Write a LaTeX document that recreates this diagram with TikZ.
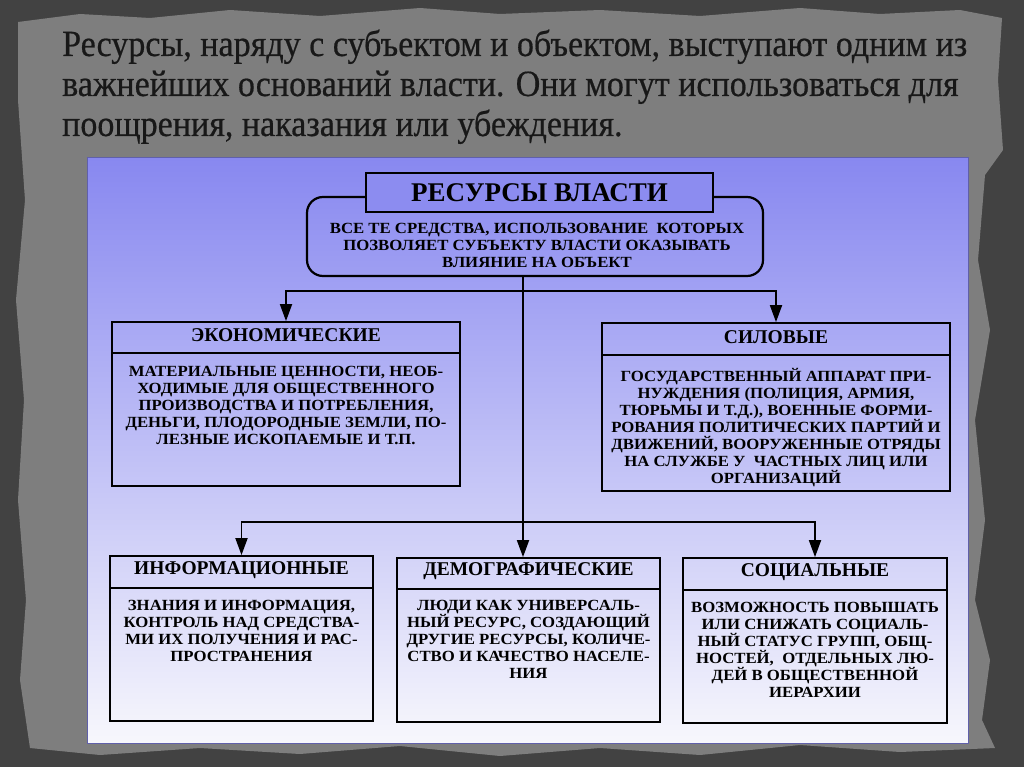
\documentclass[tikz,border=0pt]{standalone}
\usepackage{fontspec}
\setmainfont{Liberation Serif}
\newfontfamily\headingfont[FakeStretch=0.92, FakeBold=0.5]{Liberation Serif}
\newfontfamily\boxfont[FakeStretch=1.08]{Liberation Serif}
\usetikzlibrary{arrows.meta,positioning,calc}

\definecolor{slate}{RGB}{66,66,66}
\definecolor{paper}{RGB}{126,126,126}
\definecolor{paneltop}{RGB}{136,136,240}
\definecolor{panelmid}{RGB}{186,186,244}
\definecolor{panelbot}{RGB}{247,247,252}
\definecolor{panelrim}{RGB}{96,96,170}
\definecolor{ink}{RGB}{24,24,24}
\definecolor{namefill}{RGB}{140,140,240}

\begin{document}
\begin{tikzpicture}[
    x=1pt, y=-1pt,
    heading/.style={anchor=base west, inner sep=0, text=ink, font=\headingfont\fontsize{37}{40}\selectfont},
    frame/.style={draw=black, line width=1.8pt, inner sep=0},
    namebox/.style={frame, fill=namefill, minimum width=347pt, minimum height=39pt, font=\fontsize{27}{30}\selectfont\bfseries},
    defbox/.style={frame, line width=2.2pt, rounded corners=16pt, minimum width=456pt, minimum height=79pt},
    head/.style={inner sep=0, font=\fontsize{19.5}{22}\selectfont\bfseries},
    body/.style={inner sep=0, align=center, font=\boxfont\fontsize{15.5}{17}\selectfont\bfseries},
    line/.style={draw, line width=1.8pt, -{Triangle[length=17pt,width=12pt]}}
]
    % background and panel
    \useasboundingbox (0,0) rectangle (1024,767);
    \fill[slate] (0,0) rectangle (1024,767);
    \fill[paper] (18,22) -- (80,14) -- (150,18) -- (230,10) -- (320,16) -- (420,8) -- (500,14)
        -- (600,10) -- (700,16) -- (800,8) -- (880,14) -- (960,10) -- (1002,18)
        -- (998,80) -- (1003,150) -- (985,175) -- (978,260) -- (990,330) -- (975,420)
        -- (985,520) -- (975,600) -- (990,660) -- (982,720) -- (995,748)
        -- (900,752) -- (800,745) -- (700,755) -- (600,748) -- (500,756) -- (400,746)
        -- (300,754) -- (200,748) -- (100,755) -- (30,748)
        -- (20,680) -- (26,600) -- (18,500) -- (24,400) -- (16,300) -- (25,200) -- (18,100) -- cycle;
    \shade[top color=paneltop, middle color=panelmid, bottom color=panelbot]
        (87,158) rectangle (968,743);
    \draw[panelrim, line width=1pt] (87,158) rectangle (968,743);

    \node[heading] (line1) at (62,56) {Ресурсы, наряду с субъектом и объектом, выступают одним из};
    \node[heading] (line2) at (62,96) {важнейших оснований власти. Они могут использоваться для};
    \node[heading] (line3) at (62,136) {поощрения, наказания или убеждения.};

    % top block
    \node[defbox] (def) at (535,236.5) {};
    \node[namebox] (name) at (539.5,192.5) {РЕСУРСЫ ВЛАСТИ};
    \node[body] (deftext) at (537,245) {ВСЕ ТЕ СРЕДСТВА, ИСПОЛЬЗОВАНИЕ\ \ КОТОРЫХ\\ПОЗВОЛЯЕТ СУБЪЕКТУ ВЛАСТИ ОКАЗЫВАТЬ\\ВЛИЯНИЕ НА ОБЪЕКТ};

    % kinds of resources
    \node[frame, minimum width=348pt, minimum height=164pt] (econ) at (286,404) {};
    \node[head] (econhead) at (286,335) {ЭКОНОМИЧЕСКИЕ};
    \draw[frame] (econ.west |- 0,353) -- (econ.east |- 0,353);
    \node[body, anchor=north] (econbody) at (286,366) {МАТЕРИАЛЬНЫЕ ЦЕННОСТИ, НЕОБ-\\ХОДИМЫЕ ДЛЯ ОБЩЕСТВЕННОГО\\ПРОИЗВОДСТВА И ПОТРЕБЛЕНИЯ,\\ДЕНЬГИ, ПЛОДОРОДНЫЕ ЗЕМЛИ, ПО-\\ЛЕЗНЫЕ ИСКОПАЕМЫЕ И Т.П.};

    \node[frame, minimum width=348pt, minimum height=168pt] (power) at (776,407) {};
    \node[head] (powerhead) at (776,337) {СИЛОВЫЕ};
    \draw[frame] (power.west |- 0,355) -- (power.east |- 0,355);
    \node[body, anchor=north] (powerbody) at (776,368) {ГОСУДАРСТВЕННЫЙ АППАРАТ ПРИ-\\НУЖДЕНИЯ (ПОЛИЦИЯ, АРМИЯ,\\ТЮРЬМЫ И Т.Д.), ВОЕННЫЕ ФОРМИ-\\РОВАНИЯ ПОЛИТИЧЕСКИХ ПАРТИЙ И\\ДВИЖЕНИЙ, ВООРУЖЕННЫЕ ОТРЯДЫ\\НА СЛУЖБЕ У\ \ ЧАСТНЫХ ЛИЦ ИЛИ\\ОРГАНИЗАЦИЙ};

    \node[frame, minimum width=263pt, minimum height=165pt] (info) at (241.5,638.5) {};
    \node[head] (infohead) at (241.5,570) {ИНФОРМАЦИОННЫЕ};
    \draw[frame] (info.west |- 0,588) -- (info.east |- 0,588);
    \node[body, anchor=north] (infobody) at (241.5,600) {ЗНАНИЯ И ИНФОРМАЦИЯ,\\КОНТРОЛЬ НАД СРЕДСТВА-\\МИ ИХ ПОЛУЧЕНИЯ И РАС-\\ПРОСТРАНЕНИЯ};

    \node[frame, minimum width=263pt, minimum height=164pt] (demo) at (528.5,640) {};
    \node[head] (demohead) at (528.5,571) {ДЕМОГРАФИЧЕСКИЕ};
    \draw[frame] (demo.west |- 0,589) -- (demo.east |- 0,589);
    \node[body, anchor=north] (demobody) at (528.5,600) {ЛЮДИ КАК УНИВЕРСАЛЬ-\\НЫЙ РЕСУРС, СОЗДАЮЩИЙ\\ДРУГИЕ РЕСУРСЫ, КОЛИЧЕ-\\СТВО И КАЧЕСТВО НАСЕЛЕ-\\НИЯ};

    \node[frame, minimum width=264pt, minimum height=165pt] (soc) at (815,640.5) {};
    \node[head] (sochead) at (815,572) {СОЦИАЛЬНЫЕ};
    \draw[frame] (soc.west |- 0,590) -- (soc.east |- 0,590);
    \node[body, anchor=north] (socbody) at (815,602) {ВОЗМОЖНОСТЬ ПОВЫШАТЬ\\ИЛИ СНИЖАТЬ СОЦИАЛЬ-\\НЫЙ СТАТУС ГРУПП, ОБЩ-\\НОСТЕЙ,\ \ ОТДЕЛЬНЫХ ЛЮ-\\ДЕЙ В ОБЩЕСТВЕННОЙ\\ИЕРАРХИИ};

    % connectors
    \coordinate (spine) at (523,276);
    \coordinate (fork1) at (523,291);
    \coordinate (fork2) at (523,522);
    \path [line] (spine) -- (spine |- demo.north);
    \path [line] (fork1) -| (econ);
    \path [line] (fork1) -| (power);
    \path [line] (fork2) -| (info);
    \path [line] (fork2) -| (soc);
\end{tikzpicture}
\end{document}
